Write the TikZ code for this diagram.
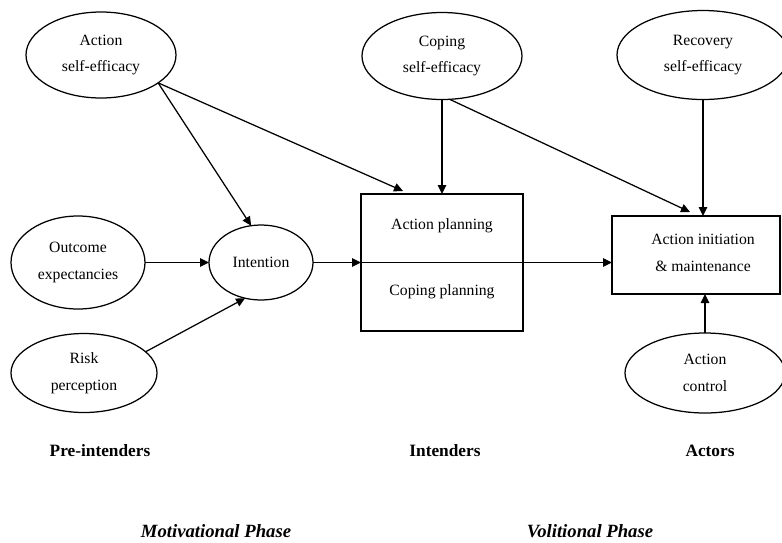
\documentclass[tikz,border=0pt]{standalone}
\usepackage{fontspec}
\setmainfont{Liberation Serif}
\usetikzlibrary{arrows.meta,calc,shapes.geometric}
\begin{document}
\begin{tikzpicture}[x=1pt,y=-1pt,
  every node/.style={inner sep=0pt, outer sep=0pt},
  box/.style={draw, line width=1.25pt},
  oval/.style={draw, ellipse, line width=1.25pt, align=center,
    font=\fontsize{15.7}{26.5}\selectfont},
  lbl/.style={align=center, font=\fontsize{15.7}{26.5}\selectfont},
  arr/.style={-{Triangle[length=9pt,width=8.5pt]}, line width=1.25pt},
  stage/.style={anchor=base, font=\fontsize{17.3}{20}\selectfont\bfseries},
  phase/.style={anchor=base, font=\fontsize{18.7}{22}\selectfont\bfseries\itshape}]
\useasboundingbox (0,0) rectangle (782,542);

% self-efficacy beliefs along the top
\node[oval, minimum width=150pt, minimum height=86pt] (ase) at (101,55) {Action\\self-efficacy};
\node[oval, minimum width=160pt, minimum height=87pt] (cse) at (442,56) {Coping\\self-efficacy};
\node[oval, minimum width=172pt, minimum height=89pt] (rse) at (703,55) {Recovery\\self-efficacy};

% motivational predictors
\node[oval, minimum width=134pt, minimum height=93pt] (oe) at (78,262.5) {Outcome\\expectancies};
\node[oval, minimum width=104pt, minimum height=75pt] (int) at (261,262.5) {Intention};
\node[oval, minimum width=146pt, minimum height=79pt] (rp) at (84,373) {Risk\\perception};

% planning and behaviour
\node[box, minimum width=162pt, minimum height=137pt] (plan) at (442,262.5) {};
\node[lbl] (apl) at (442,226) {Action planning};
\node[lbl] (cpl) at (442,292) {Coping planning};
\node[box, minimum width=168pt, minimum height=78pt] (aim) at (696,255) {};
\node[lbl] (aimt) at (703,253) {Action initiation\\\& maintenance};
\node[oval, minimum width=160pt, minimum height=80pt] (ac) at (705,373) {Action\\control};

% stage and phase labels
\node[stage] (pre) at (100,456) {Pre-intenders};
\node[stage] (intd) at (445,456) {Intenders};
\node[stage] (act) at (710,456) {Actors};
\node[phase] (mot) at (216,537) {Motivational Phase};
\node[phase] (vol) at (590,537) {Volitional Phase};

% paths
\draw[arr] (ase.-26) -- ($(plan.north west)+(42,-3)$);
\draw[arr] (ase.-26) -- (int.105);
\draw[arr] (cse.south) -- (plan.north);
\draw[arr] (cse.-80) -- ($(aim.north)+(-6,-4)$);
\draw[arr] (rse.south) -- (rse.south |- aim.north);
\draw[arr] (oe.east) -- (int.west);
\draw[arr] (rp.19) -- (int.246);
\draw[arr] (int.east) -- (plan.west);
\draw[arr] (plan.west) -- (plan.west -| aim.west);
\draw[arr] (ac.north) -- (ac.north |- aim.south);
\end{tikzpicture}
\end{document}
